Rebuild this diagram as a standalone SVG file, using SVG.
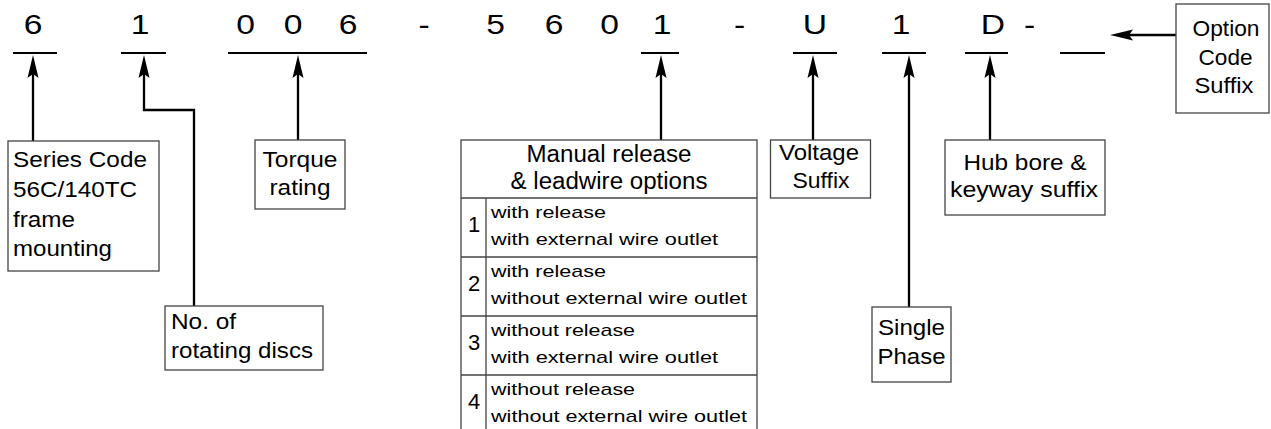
<svg xmlns="http://www.w3.org/2000/svg" width="1271" height="429" viewBox="0 0 1271 429" font-family="'Liberation Sans', Arial, Helvetica, sans-serif">
<style>
text{font-family:'Liberation Sans',Arimo,Arial,Helvetica,sans-serif;fill:#000}
.code{font-size:28px;text-anchor:middle}
.lbl{font-size:22px}
.mid{text-anchor:middle}
.hdr{font-size:23px;text-anchor:middle}
.row{font-size:17px}
.num{font-size:22px;text-anchor:middle}
.box{fill:#fff;stroke:#444;stroke-width:1.3}
.grid{fill:none;stroke:#444;stroke-width:1.3}
.ul{stroke:#000;stroke-width:2.2;fill:none}
.conn{stroke:#000;stroke-width:2.3;fill:none;marker-end:url(#ah)}
</style>
<defs>
<marker id="ah" markerUnits="userSpaceOnUse" markerWidth="30" markerHeight="14" refX="0" refY="0" orient="auto" overflow="visible">
<path d="M12,0 L-11,-5.5 L-7,0 L-11,5.5 Z" fill="#000"/>
</marker>
</defs>
<rect width="1271" height="429" fill="#fff"/>
<g id="code">
<text class="code" x="33" y="34" textLength="18.7" lengthAdjust="spacingAndGlyphs">6</text>
<text class="code" x="140" y="34" textLength="18.7" lengthAdjust="spacingAndGlyphs">1</text>
<text class="code" x="245.5" y="34" textLength="18.7" lengthAdjust="spacingAndGlyphs">0</text>
<text class="code" x="293" y="34" textLength="18.7" lengthAdjust="spacingAndGlyphs">0</text>
<text class="code" x="348" y="34" textLength="18.7" lengthAdjust="spacingAndGlyphs">6</text>
<text class="code" x="424" y="34" textLength="11.2" lengthAdjust="spacingAndGlyphs">-</text>
<text class="code" x="495.5" y="34" textLength="18.7" lengthAdjust="spacingAndGlyphs">5</text>
<text class="code" x="554" y="34" textLength="18.7" lengthAdjust="spacingAndGlyphs">6</text>
<text class="code" x="609.5" y="34" textLength="18.7" lengthAdjust="spacingAndGlyphs">0</text>
<text class="code" x="662" y="34" textLength="18.7" lengthAdjust="spacingAndGlyphs">1</text>
<text class="code" x="739.5" y="34" textLength="11.2" lengthAdjust="spacingAndGlyphs">-</text>
<text class="code" x="815" y="34" textLength="24.3" lengthAdjust="spacingAndGlyphs">U</text>
<text class="code" x="901" y="34" textLength="18.7" lengthAdjust="spacingAndGlyphs">1</text>
<text class="code" x="993" y="34" textLength="24.3" lengthAdjust="spacingAndGlyphs">D</text>
<text class="code" x="1029.5" y="34" textLength="11.2" lengthAdjust="spacingAndGlyphs">-</text>
<path class="ul" d="M13,53H57 M121,53H166 M228,53H367 M641,53H679 M793,53H837 M882,53H926 M965,53H1008 M1060,53H1105"/>
</g>
<g id="connectors">
<path class="conn" d="M33,141V67"/>
<path class="conn" d="M194,306V110H144V67"/>
<path class="conn" d="M298,140V67"/>
<path class="conn" d="M661,140V67"/>
<path class="conn" d="M813,140V67"/>
<path class="conn" d="M909,307V67"/>
<path class="conn" d="M990,140V67"/>
<path class="conn" d="M1176,35H1122"/>
</g>
<g id="series">
<rect class="box" x="8" y="141" width="151" height="130"/>
<text class="lbl" x="13" y="167" textLength="134" lengthAdjust="spacingAndGlyphs">Series Code</text>
<text class="lbl" x="13" y="197" textLength="124" lengthAdjust="spacingAndGlyphs">56C/140TC</text>
<text class="lbl" x="13" y="226.5" textLength="62" lengthAdjust="spacingAndGlyphs">frame</text>
<text class="lbl" x="13" y="256" textLength="99" lengthAdjust="spacingAndGlyphs">mounting</text>
</g>
<g id="discs">
<rect class="box" x="165" y="306" width="158" height="64"/>
<text class="lbl" x="171" y="329" textLength="65" lengthAdjust="spacingAndGlyphs">No. of</text>
<text class="lbl" x="171" y="358" textLength="142" lengthAdjust="spacingAndGlyphs">rotating discs</text>
</g>
<g id="torque">
<rect class="box" x="255" y="140" width="90" height="69"/>
<text class="lbl mid" x="300" y="167" textLength="75" lengthAdjust="spacingAndGlyphs">Torque</text>
<text class="lbl mid" x="300" y="195" textLength="61" lengthAdjust="spacingAndGlyphs">rating</text>
</g>
<g id="manual">
<rect class="box" x="461" y="140" width="296" height="295"/>
<path class="grid" d="M461,198H757 M461,257H757 M461,316H757 M461,375H757 M486,198V429"/>
<text class="hdr" x="609" y="161.5" textLength="165" lengthAdjust="spacingAndGlyphs">Manual release</text>
<text class="hdr" x="609" y="189" textLength="197" lengthAdjust="spacingAndGlyphs">&amp; leadwire options</text>
<text class="num" x="474" y="232">1</text>
<text class="row" x="491" y="218" textLength="115" lengthAdjust="spacingAndGlyphs">with release</text>
<text class="row" x="491" y="245" textLength="227" lengthAdjust="spacingAndGlyphs">with external wire outlet</text>
<text class="num" x="474" y="291">2</text>
<text class="row" x="491" y="277" textLength="115" lengthAdjust="spacingAndGlyphs">with release</text>
<text class="row" x="491" y="304" textLength="256" lengthAdjust="spacingAndGlyphs">without external wire outlet</text>
<text class="num" x="474" y="350">3</text>
<text class="row" x="491" y="336" textLength="144" lengthAdjust="spacingAndGlyphs">without release</text>
<text class="row" x="491" y="363" textLength="227" lengthAdjust="spacingAndGlyphs">with external wire outlet</text>
<text class="num" x="474" y="409">4</text>
<text class="row" x="491" y="395" textLength="144" lengthAdjust="spacingAndGlyphs">without release</text>
<text class="row" x="491" y="422" textLength="256" lengthAdjust="spacingAndGlyphs">without external wire outlet</text>
</g>
<g id="voltage">
<rect class="box" x="770.5" y="140" width="100" height="58"/>
<text class="lbl mid" x="819" y="159.5" textLength="80" lengthAdjust="spacingAndGlyphs">Voltage</text>
<text class="lbl mid" x="821" y="188" textLength="57" lengthAdjust="spacingAndGlyphs">Suffix</text>
</g>
<g id="phase">
<rect class="box" x="872" y="307" width="79" height="75"/>
<text class="lbl mid" x="911.5" y="335" textLength="67" lengthAdjust="spacingAndGlyphs">Single</text>
<text class="lbl mid" x="911.5" y="364" textLength="68" lengthAdjust="spacingAndGlyphs">Phase</text>
</g>
<g id="hub">
<rect class="box" x="945" y="140" width="160" height="75"/>
<text class="lbl mid" x="1025" y="170" textLength="123" lengthAdjust="spacingAndGlyphs">Hub bore &amp;</text>
<text class="lbl mid" x="1024" y="197" textLength="148" lengthAdjust="spacingAndGlyphs">keyway suffix</text>
</g>
<g id="option">
<rect class="box" x="1176" y="4" width="93" height="109"/>
<text class="lbl mid" x="1226" y="36" textLength="67" lengthAdjust="spacingAndGlyphs">Option</text>
<text class="lbl mid" x="1225.5" y="64.5" textLength="54" lengthAdjust="spacingAndGlyphs">Code</text>
<text class="lbl mid" x="1224" y="92.5" textLength="59" lengthAdjust="spacingAndGlyphs">Suffix</text>
</g>
</svg>
